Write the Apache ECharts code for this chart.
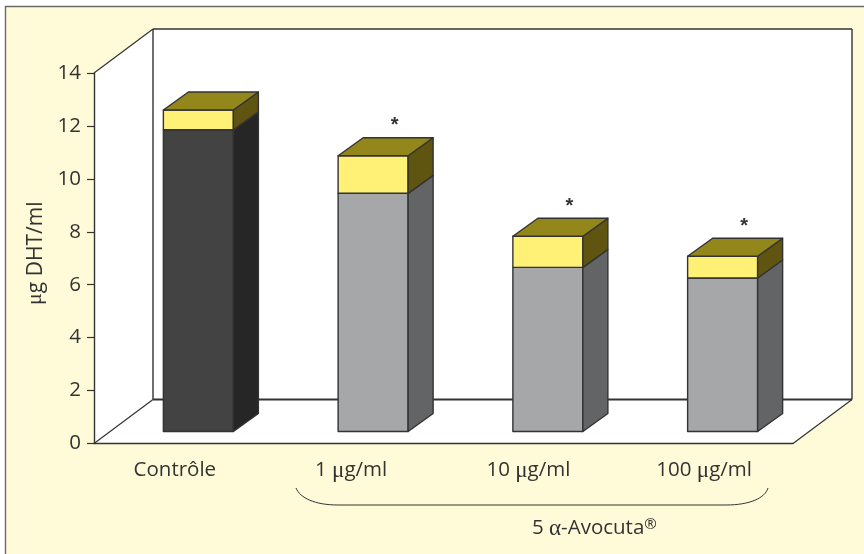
<!DOCTYPE html>
<html>
<head>
<meta charset="utf-8">
<style>html,body{margin:0;padding:0;background:#fff}#c{width:864px;height:554px}</style>
<script src="https://cdn.jsdelivr.net/npm/echarts@6/dist/echarts.min.js"></script>
</head>
<body>
<div id="c"></div>
<script>
// DHT production by treatment group
var categories = ['Contrôle', '1 {m|μ}g/ml', '10 {m|μ}g/ml', '100 {m|μ}g/ml'];
var lowerValues = [11.4, 9.0, 6.2, 5.8];
var totalValues = [12.15, 10.42, 7.38, 6.62];
var significant = [0, 1, 1, 1];
var yTicks = { min: 0, max: 14, step: 2 };

var INK = '#333333';
var FONT = '"Open Sans", "Noto Sans", sans-serif';
var SERIF = '"Liberation Serif", serif';
var FS = 20.5;

// Oblique projection: wall depth and the depth of the bars inside the box
var WALL = { dx: 59, dy: -44 };
var BAR = { shiftX: 17, shiftY: -12, half: 35, dx: 25, dy: -18 };

var FACE = {
  front: ['#434343', '#a6a7a9', '#a6a7a9', '#a6a7a9'],
  side: ['#262626', '#636466', '#636466', '#636466'],
  capFront: '#fff176',
  capSide: '#5f5510',
  capTop: '#93861a'
};

function poly(points, fill, w) {
  return {
    type: 'polygon',
    shape: { points: points },
    style: { fill: fill, stroke: w === 0 ? null : INK, lineWidth: w === undefined ? 1.4 : w, lineJoin: 'round' }
  };
}
function seg(a, b, w) {
  return {
    type: 'line',
    shape: { x1: a[0], y1: a[1], x2: b[0], y2: b[1] },
    style: { stroke: INK, lineWidth: w, fill: null }
  };
}

// Side wall, back wall and floor of the box, derived from the axis extents
function renderBox(params, api) {
  var n = categories.length;
  var o = api.coord([0, 0]);
  var unit = api.size([1, 0])[0];
  var x0 = o[0] - unit / 2;
  var x1 = x0 + unit * n;
  var y0 = o[1];
  var yTop = api.coord([0, yTicks.max])[1];
  var d = WALL;
  return {
    type: 'group',
    children: [
      poly([[x0, y0], [x0 + d.dx, y0 + d.dy], [x1 + d.dx, y0 + d.dy], [x1, y0]], '#ffffff', 0),
      poly([[x0, yTop], [x0 + d.dx, yTop + d.dy], [x0 + d.dx, y0 + d.dy], [x0, y0]], '#ffffff', 0),
      poly([[x0 + d.dx, yTop + d.dy], [x1 + d.dx, yTop + d.dy], [x1 + d.dx, y0 + d.dy], [x0 + d.dx, y0 + d.dy]], '#ffffff', 0),
      seg([x0, yTop], [x0 + d.dx, yTop + d.dy], 1.2),
      seg([x0 + d.dx, yTop + d.dy], [x1 + d.dx, yTop + d.dy], 1.6),
      seg([x0 + d.dx, yTop + d.dy], [x0 + d.dx, y0 + d.dy], 1.4),
      seg([x1 + d.dx, yTop + d.dy], [x1 + d.dx, y0 + d.dy], 1.4),
      seg([x0 + d.dx, y0 + d.dy], [x1 + d.dx, y0 + d.dy], 1.8),
      seg([x0, y0], [x0 + d.dx, y0 + d.dy], 1.2),
      seg([x1, y0], [x1 + d.dx, y0 + d.dy], 1.2)
    ]
  };
}

// One stacked prism: lower block, yellow cap, top face and optional asterisk
function renderBar(params, api) {
  var i = api.value(0);
  var base = api.coord([i, 0]);
  var mid = api.coord([i, api.value(1)]);
  var top = api.coord([i, api.value(2)]);
  var b = BAR;
  var l = base[0] + b.shiftX - b.half;
  var r = base[0] + b.shiftX + b.half;
  var yb = base[1] + b.shiftY;
  var ym = mid[1] + b.shiftY;
  var yt = top[1] + b.shiftY;
  var kids = [
    poly([[l, yb], [r, yb], [r, ym], [l, ym]], FACE.front[i]),
    poly([[r, yb], [r + b.dx, yb + b.dy], [r + b.dx, ym + b.dy], [r, ym]], FACE.side[i]),
    poly([[l, ym], [r, ym], [r, yt], [l, yt]], FACE.capFront),
    poly([[r, ym], [r + b.dx, ym + b.dy], [r + b.dx, yt + b.dy], [r, yt]], FACE.capSide),
    poly([[l, yt], [r, yt], [r + b.dx, yt + b.dy], [l + b.dx, yt + b.dy]], FACE.capTop)
  ];
  if (api.value(3)) {
    kids.push({
      type: 'text',
      style: {
        x: r - 13.5, y: yt - 30, text: '*', fill: INK,
        font: 'bold 20px "Liberation Sans", sans-serif', textAlign: 'center', textVerticalAlign: 'middle'
      }
    });
  }
  return { type: 'group', children: kids };
}

var chart = echarts.init(document.getElementById('c'), null, { renderer: 'canvas' });
chart.setOption({
  animation: false,
  backgroundColor: '#ffffff',
  textStyle: { fontFamily: FONT },
  graphic: [
    {
      type: 'rect', z: -10, silent: true,
      shape: { x: 5.5, y: 6.5, width: 900, height: 600 },
      style: { fill: '#fffbd9', stroke: '#6a6a6a', lineWidth: 1.4 }
    },
    {
      type: 'bezierCurve', z: 10, silent: true,
      shape: { x1: 296, y1: 488, cpx1: 300, cpy1: 498, cpx2: 315, cpy2: 505, x2: 338, y2: 505 },
      style: { fill: null, stroke: INK, lineWidth: 1 }
    },
    {
      type: 'line', z: 10, silent: true,
      shape: { x1: 338, y1: 505, x2: 726, y2: 505 },
      style: { stroke: INK, lineWidth: 1 }
    },
    {
      type: 'bezierCurve', z: 10, silent: true,
      shape: { x1: 726, y1: 505, cpx1: 750, cpy1: 505, cpx2: 765, cpy2: 498, x2: 768, y2: 488 },
      style: { fill: null, stroke: INK, lineWidth: 1 }
    },
    {
      type: 'text', z: 10, silent: true, x: 532, y: 517,
      style: {
        text: '5 {g|α}-Avocuta{r|®}',
        fill: INK, fontFamily: FONT, fontSize: FS,
        rich: {
          g: { fontFamily: SERIF, fontSize: FS + 2.5, fill: INK },
          r: { fontFamily: FONT, fontSize: 15, fill: INK, verticalAlign: 'top', padding: [0, 0, 7, 0] }
        }
      }
    }
  ],
  grid: { left: 94, right: 71, top: 73, bottom: 110.5, containLabel: false },
  xAxis: {
    type: 'category',
    data: categories,
    z: 4,
    axisLine: { lineStyle: { color: INK, width: 1.4 } },
    axisTick: { length: 7, lineStyle: { color: INK, width: 1.2 } },
    axisLabel: {
      color: INK, fontFamily: FONT, fontSize: FS, lineHeight: 26, margin: 14, interval: 0,
      // trailing spacers nudge each label left of its category centre
      formatter: function (v, i) { return v + '{p' + i + '|\u200a}'; },
      rich: {
        m: { fontFamily: SERIF, fontSize: FS + 2.5, lineHeight: 26, color: INK },
        p0: { width: 13, lineHeight: 26 }, p1: { width: 10, lineHeight: 26 },
        p2: { width: 5, lineHeight: 26 }, p3: { width: 3, lineHeight: 26 }
      }
    }
  },
  yAxis: {
    type: 'value',
    min: yTicks.min, max: yTicks.max, interval: yTicks.step,
    z: 4,
    name: '{m|μ}g DHT/ml',
    nameLocation: 'middle',
    nameGap: 43,
    nameRotate: 90,
    nameTextStyle: {
      color: INK, fontFamily: FONT, fontSize: 21,
      padding: [0, 0, 0, 10],
      rich: { m: { fontFamily: SERIF, fontSize: 22, color: INK } }
    },
    splitLine: { show: false },
    axisLine: { show: true, lineStyle: { color: INK, width: 1.4 } },
    axisTick: { show: true, length: 7, lineStyle: { color: INK, width: 1.2 } },
    axisLabel: { color: INK, fontFamily: FONT, fontSize: FS, margin: 13, padding: [4, 0, 0, 0] }
  },
  series: [
    {
      type: 'custom', z: 1, silent: true, clip: false,
      renderItem: renderBox,
      data: [[0, 0]]
    },
    {
      type: 'custom', z: 3, silent: true, clip: false,
      renderItem: renderBar,
      encode: { x: 0, y: 2 },
      data: categories.map(function (c, i) {
        return [i, lowerValues[i], totalValues[i], significant[i]];
      })
    }
  ]
});
</script>
</body>
</html>
